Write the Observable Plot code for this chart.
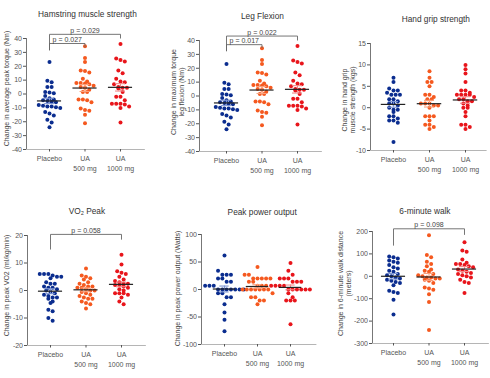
<!DOCTYPE html>
<html><head><meta charset="utf-8">
<script src="https://cdn.jsdelivr.net/npm/d3@7"></script>
<script src="https://cdn.jsdelivr.net/npm/@observablehq/plot@0.6"></script>
<style>
body{margin:0;background:#fff;font-family:"Liberation Sans",Arial,sans-serif;}
#chart{position:relative;width:490px;height:378px;overflow:hidden;}
#chart svg{position:absolute;overflow:visible;}
</style></head><body><div id="chart"></div>
<script>
// ---- categories ----
const groups = ["Placebo", "UA 500 mg", "UA 1000 mg"];
const groupLabels = ["Placebo", "UA\n500 mg", "UA\n1000 mg"];
const groupColors = ["#0b2d8f", "#f5591f", "#e8151b"];
const semColors = ["#7d95d3", "#f9a07c", "#f28a8a"];

// ---- Hamstring muscle strength (Nm) ----
const hamPlacebo = [23, 9.5, 8.5, 5, 5, 1.5, 1, 0.5, -1.5, -3, -4, -4.5, -5, -5.5, -6, -8, -8.5, -9, -9, -9.5, -10, -13, -14, -15.5, -18.5, -20.5, -24];
const hamUA500 = [34.5, 26, 23, 17, 16.5, 15.5, 11, 9, 8, 8, 7.5, 7, 6, 5, 4.5, 3, 1.5, 1.5, -4, -4, -4.5, -6, -10.5, -11.5, -12, -15, -21];
const hamUA1000 = [36, 25.5, 24.5, 23.5, 17, 15, 11, 9, 8.5, 7, 5, 4.5, 4.5, 4, 1.5, -2, -2, -4.5, -7, -7, -7, -7.5, -9, -10, -20.5];
const hamTicks = [-40, -30, -20, -10, 0, 10, 20, 30, 40];

// ---- Leg flexion (Nm) ----
const legPlacebo = [23, 9.5, 8.5, 5, 5, 1.5, 1, 0.5, -1.5, -3, -4, -4.5, -5, -5.5, -6, -8, -8.5, -9, -9, -9.5, -10, -13, -14, -15.5, -18.5, -20.5, -24];
const legUA500 = [34.5, 26, 23, 17, 16.5, 15.5, 11, 9, 8, 8, 7.5, 7, 6, 5, 4.5, 3, 1.5, 1.5, -4, -4, -4.5, -6, -10.5, -11.5, -12, -15, -21];
const legUA1000 = [36, 25.5, 24.5, 23.5, 17, 15, 11, 9, 8.5, 7, 5, 4.5, 4.5, 4, 1.5, -2, -2, -4.5, -7, -7, -7, -7.5, -9, -10, -20.5];
const legTicks = [-40, -30, -20, -10, 0, 10, 20, 30, 40];

// ---- Hand grip strength (kgs) ----
const gripPlacebo = [7, 6, 4.5, 4, 4, 3.5, 3, 3, 3, 2, 2, 1.5, 1, 1, 0.5, 0, -0.5, -0.5, -1, -2, -2, -2.5, -3, -3, -3.5, -8];
const gripUA500 = [8.5, 7, 6, 6, 5, 3, 3, 2.5, 2, 2, 1, 1, 1, 0.5, 0.5, 0, -2, -2, -2, -3, -4, -4, -4.5, -5];
const gripUA1000 = [10, 9, 8, 6, 4, 4, 3.5, 3, 3, 3, 3, 2.5, 2, 2, 1.5, 1.5, 1, 0.5, 0, 0, -1, -2, -4, -4, -4.5, -5];
const gripTicks = [-10, -5, 0, 5, 10, 15];

// ---- VO2 peak (ml/kg/min) ----
const vo2Placebo = [6, 6, 6, 5.5, 5, 5, 4.5, 3, 2.5, 2.5, 1.5, 1, 1, 0.5, 0, -0.5, -1, -1.5, -2, -2.5, -2.5, -3, -4, -4.5, -7, -7.5, -10, -11];
const vo2UA500 = [8, 5.5, 5, 4.5, 4, 3, 2.5, 2, 1.5, 1.5, 1, 1, 0.5, 0, 0, -0.5, -1, -1.5, -2, -2.5, -3, -3, -4, -4.5, -5, -6.5];
const vo2UA1000 = [13, 9.5, 7, 6.5, 6, 5, 4, 3.5, 3, 2.5, 2.5, 2, 2, 1.5, 1, 0.5, 0, -1, -1, -1, -1.5, -2.5, -4, -5];
const vo2Ticks = [-20, -10, 0, 10, 20];

// ---- Peak power output (Watts) ----
const powPlacebo = [62, 34, 27, 27, 27, 20, 20, 14, 14, 7, 7, 7, 0, 0, 0, 0, 0, 0, 0, -7, -7, -14, -14, -27, -42, -55, -76];
const powUA500 = [41, 27, 27, 20, 20, 20, 20, 20, 14, 14, 7, 7, 7, 0, 0, 0, 0, 0, 0, 0, -7, -14, -14, -20, -20, -27];
const powUA1000 = [48, 34, 27, 20, 20, 20, 14, 14, 14, 7, 7, 7, 7, 0, 0, 0, 0, 0, 0, -7, -14, -20, -20, -20, -63];
const powTicks = [-100, -50, 0, 50, 100];

// ---- 6-minute walk (meters) ----
const walkPlacebo = [88, 85, 80, 70, 65, 60, 50, 40, 35, 25, 20, 10, 5, 0, -5, -10, -15, -20, -25, -30, -40, -65, -70, -75, -105, -170];
const walkUA500 = [183, 95, 85, 65, 55, 45, 30, 25, 20, 10, 5, 0, -5, -5, -10, -10, -15, -20, -30, -50, -55, -60, -80, -115, -240];
const walkUA1000 = [152, 115, 110, 75, 60, 55, 55, 50, 45, 40, 30, 25, 20, 15, 10, 5, 0, -5, -15, -25, -30, -75];
const walkTicks = [-300, -200, -100, 0, 100, 200];

// ---- p-value brackets ----
const hamBrackets = [
  {from: 0, to: 2, level: 43, leftEnd: 31.5, rightEnd: 40, label: "p = 0.029"},
  {from: 0, to: 1, level: 36.4, leftEnd: 31.5, rightEnd: 33.7, label: "p = 0.027"}
];
const legBrackets = [
  {from: 0, to: 2, level: 43.2, leftEnd: 32.3, rightEnd: 40, label: "p = 0.022"},
  {from: 0, to: 1, level: 37, leftEnd: 32.3, rightEnd: 34.5, label: "p = 0.017"}
];
const vo2Brackets = [{from: 0, to: 2, level: 20.4, leftEnd: 14.9, rightEnd: 18.5, label: "p = 0.058"}];
const walkBrackets = [{from: 0, to: 2, level: 212, leftEnd: 137, rightEnd: 185, label: "p = 0.098"}];

// ---- panel layout ----
const panels = [
  {title: "Hamstring muscle strength", ylabel: "Change in average peak torque (Nm)", data: [hamPlacebo, hamUA500, hamUA1000], ticks: hamTicks, brackets: hamBrackets,
   left: 0, top: 0, width: 165, height: 185, mTop: 38, mBottom: 36, axisX: 26, cat0: 49, step: 35.5, xMax: 2.7, titleDx: 1.5, titleDy: -24.5, labDx: -20, labDy: -5.5},
  {title: "Leg Flexion", ylabel: "Change in maximum torque\nleg flexion (Nm)", data: [legPlacebo, legUA500, legUA1000], ticks: legTicks, brackets: legBrackets,
   left: 160, top: 0, width: 165, height: 185, mTop: 40, mBottom: 34, axisX: 39, cat0: 66, step: 35.5, xMax: 2.7, titleDx: 1.5, titleDy: -24.5, labDx: -22.5, labDy: -4},
  {title: "Hand grip strength", ylabel: "Change in hand grip\nmuscle strength (kgs)", data: [gripPlacebo, gripUA500, gripUA1000], ticks: gripTicks, brackets: [],
   left: 320, top: 0, width: 170, height: 185, mTop: 43, mBottom: 35, axisX: 50, cat0: 73, step: 36, xMax: 2.6, titleDx: 7, titleDy: -24, labDx: -22.5, labDy: 3},
  {title: "VO\u2082 Peak", ylabel: "Change in peak VO2 (ml/kg/min)", data: [vo2Placebo, vo2UA500, vo2UA1000], ticks: vo2Ticks, brackets: vo2Brackets,
   left: 0, top: 185, width: 165, height: 193, mTop: 50, mBottom: 33, axisX: 27, cat0: 50, step: 35.5, xMax: 2.7, titleDx: 0, titleDy: -24, labDx: -21, labDy: -5},
  {title: "Peak power output", ylabel: "Change in peak power output (Watts)", data: [powPlacebo, powUA500, powUA1000], ticks: powTicks, brackets: [],
   left: 160, top: 185, width: 165, height: 193, mTop: 49, mBottom: 34, axisX: 41, cat0: 64, step: 33, xMax: 2.8, titleDx: 3, titleDy: -22.5, labDx: -23.7, labDy: -1},
  {title: "6-minute walk", ylabel: "Change in 6-minute walk distance\n(meters)", data: [walkPlacebo, walkUA500, walkUA1000], ticks: walkTicks, brackets: walkBrackets,
   left: 320, top: 185, width: 170, height: 193, mTop: 46, mBottom: 35, axisX: 52, cat0: 73, step: 35.5, xMax: 2.7, titleDx: -6, titleDy: -20, labDx: -28.3, labDy: -4}
];

// Column-scatter layout: points of similar value share a row, spread horizontally around the group center (pixel space, from the scales)
function columnScatter(options) {
  return Plot.initializer(options, (data, facets, channels, scales) => {
    const XV = channels.x.value, YV = channels.y.value;
    const n = XV.length;
    const X = new Float64Array(n), Y = new Float64Array(n);
    for (let i = 0; i < n; i++) { X[i] = scales.x(XV[i]); Y[i] = scales.y(YV[i]); }
    const rowH = 4.0, colW = 4.3;
    for (const I of facets) {
      const byGroup = d3.group(I, i => XV[i]);
      for (const [, idx] of byGroup) {
        const sorted = Array.from(idx).sort((a, b) => Y[a] - Y[b]);
        let row = [], start = null;
        const flush = () => { row.forEach((i, j) => { X[i] += (j - (row.length - 1) / 2) * colW; }); row = []; };
        for (const i of sorted) {
          if (start === null || Y[i] - start > rowH) { flush(); start = Y[i]; }
          row.push(i);
        }
        flush();
      }
    }
    return {data, facets, channels: {x: {value: X}, y: {value: Y}}};
  });
}

const chart = document.getElementById("chart");
for (const p of panels) {
  const points = p.data.flatMap((vals, gi) => vals.map(v => ({g: gi, v})));
  const stats = p.data.map((vals, gi) => {
    const m = d3.mean(vals), se = d3.deviation(vals) / Math.sqrt(vals.length);
    return {g: gi, mean: m, lo: m - se, hi: m + se};
  });
  const xMin = -(p.cat0 - p.axisX) / p.step;
  const yDom = [p.ticks[0], p.ticks[p.ticks.length - 1]];
  const mRight = p.width - (p.axisX + (p.xMax - xMin) * p.step);
  const br = p.brackets;
  const svg = Plot.plot({
    width: p.width, height: p.height,
    marginTop: p.mTop, marginBottom: p.mBottom, marginLeft: p.axisX, marginRight: mRight,
    style: {background: "transparent", fontFamily: "'Liberation Sans', Arial, sans-serif", overflow: "visible"},
    x: {domain: [xMin, p.xMax]},
    y: {domain: yDom},
    color: {domain: [0, 1, 2], range: groupColors},
    marks: [
      Plot.ruleY([yDom[0]], {stroke: "#b5b5b5", strokeWidth: 1}),
      Plot.ruleX([xMin], {stroke: "#777", strokeWidth: 1}),
      Plot.axisY({ticks: p.ticks, tickFormat: d => String(d), tickSize: 3, tickPadding: 1.5, fontSize: 7, color: "#555", label: null}),
      Plot.axisX({ticks: [0, 1, 2], tickFormat: i => groupLabels[i], tickSize: 2.5, tickPadding: 3, fontSize: 7, color: "#555", label: null, lineHeight: 1.3}),
      Plot.dot(points, columnScatter({x: "g", y: "v", fill: "g", r: 2.0, stroke: null})),
      Plot.ruleX(stats, {x: "g", y1: "lo", y2: "hi", stroke: (d) => semColors[d.g], strokeWidth: 1.1}),
      Plot.ruleY(stats, {x1: d => d.g - 0.14, x2: d => d.g + 0.14, y: "lo", stroke: d => semColors[d.g], strokeWidth: 1.1}),
      Plot.ruleY(stats, {x1: d => d.g - 0.14, x2: d => d.g + 0.14, y: "hi", stroke: d => semColors[d.g], strokeWidth: 1.1}),
      Plot.ruleY(stats, {x1: d => d.g - 0.34, x2: d => d.g + 0.34, y: "mean", stroke: "#222", strokeWidth: 1.2}),
      // brackets
      Plot.link(br, {x1: "from", x2: "from", y1: "leftEnd", y2: "level", stroke: "#666", strokeWidth: 0.9}),
      Plot.link(br, {x1: "from", x2: "to", y1: "level", y2: "level", stroke: "#666", strokeWidth: 0.9}),
      Plot.link(br, {x1: "to", x2: "to", y1: "level", y2: "rightEnd", stroke: "#666", strokeWidth: 0.9}),
      Plot.text(br, {x: d => (d.from + d.to) / 2, y: "level", text: "label", lineAnchor: "bottom", dy: -1.5, fontSize: 7, fill: "#444"}),
      // title and y label
      Plot.text([p.title], {frameAnchor: "top", text: d => d, textAnchor: "middle", lineAnchor: "middle", dx: p.titleDx, dy: p.titleDy, fontSize: 8.3, fill: "#333"}),
      Plot.text([p.ylabel], {frameAnchor: "left", text: d => d, rotate: -90, textAnchor: "middle", lineAnchor: "middle", dx: p.labDx, dy: p.labDy, fontSize: 7, fill: "#444", lineHeight: 1.15})
    ]
  });
  svg.style.left = p.left + "px";
  svg.style.top = p.top + "px";
  chart.appendChild(svg);
}
</script></body></html>
